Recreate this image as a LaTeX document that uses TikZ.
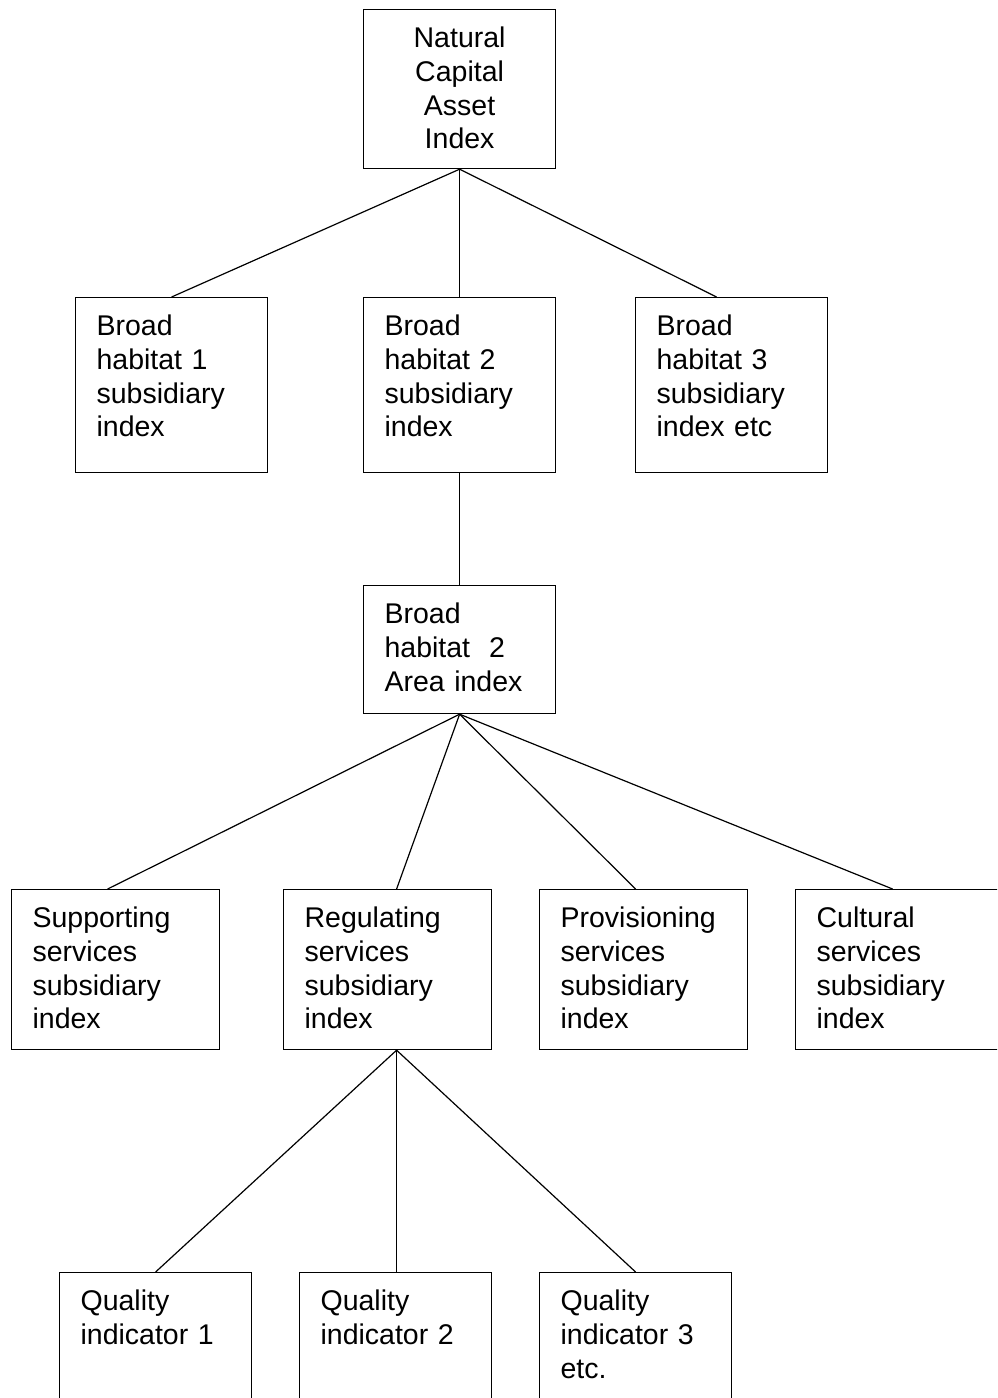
\documentclass[tikz,border=0pt]{standalone}
\usepackage{fontspec}
\setmainfont{Liberation Sans}
\usetikzlibrary{positioning}

\begin{document}
\begin{tikzpicture}[x=1pt, y=-1pt,
    box/.style={rectangle, draw, line width=1.2pt, anchor=north west, inner xsep=21pt, inner ysep=0pt, align=left, text height=38pt, font=\fontsize{28.5}{33.7}\selectfont},
    topbox/.style={box, align=center, text width=150pt, text depth=121pt},
    habitat/.style={box, text width=150pt, text depth=137pt},
    area/.style={box, text width=150pt, text depth=90pt},
    service/.style={box, text width=166pt, text depth=122pt},
    quality/.style={box, text width=150pt, text depth=140pt},
    link/.style={line width=1.2pt}]

\useasboundingbox (0,0) rectangle (997,1398);
\clip (0,0) rectangle (997,1398);

% Main index (top)
\node[topbox] (ncai) at (363,9) {Natural\\Capital\\Asset\\Index};

% Broad habitat subsidiary indices
\node[habitat] (hab1) at (75,297) {Broad\\habitat 1\\subsidiary\\index};
\node[habitat] (hab2) at (363,297) {Broad\\habitat 2\\subsidiary\\index};
\node[habitat] (hab3) at (635,297) {Broad\\habitat 3\\subsidiary\\index etc};

% Area index of habitat 2
\node[area] (area2) at (363,585) {Broad\\habitat\ \ 2\\Area index};

% Service subsidiary indices
\node[service] (support) at (11,889) {Supporting\\services\\subsidiary\\index};
\node[service] (regulate) at (283,889) {Regulating\\services\\subsidiary\\index};
\node[service] (provision) at (539,889) {Provisioning\\services\\subsidiary\\index};
\node[service] (culture) at (795,889) {Cultural\\services\\subsidiary\\index};

% Quality indicators (bottom)
\node[quality] (qual1) at (59,1272) {Quality\\indicator 1};
\node[quality] (qual2) at (299,1272) {Quality\\indicator 2};
\node[quality] (qual3) at (539,1272) {Quality\\indicator 3\\etc.};

% Connections
\draw[-, link] (ncai.south) -- (hab1.north);
\draw[-, link] (ncai.south) -- (hab2.north);
\draw[-, link] (ncai.south) -- ([xshift=-15pt]hab3.north);

\draw[-, link] (hab2.south) -- (area2.north);

\draw[-, link] (area2.south) -- ([xshift=-8pt]support.north);
\draw[-, link] (area2.south) -- ([xshift=9pt]regulate.north);
\draw[-, link] (area2.south) -- ([xshift=-8pt]provision.north);
\draw[-, link] (area2.south) -- ([xshift=-7pt]culture.north);

\draw[-, link] ([xshift=9pt]regulate.south) -- (qual1.north);
\draw[-, link] ([xshift=9pt]regulate.south) -- ([xshift=1pt]qual2.north);
\draw[-, link] ([xshift=9pt]regulate.south) -- (qual3.north);

\end{tikzpicture}
\end{document}
